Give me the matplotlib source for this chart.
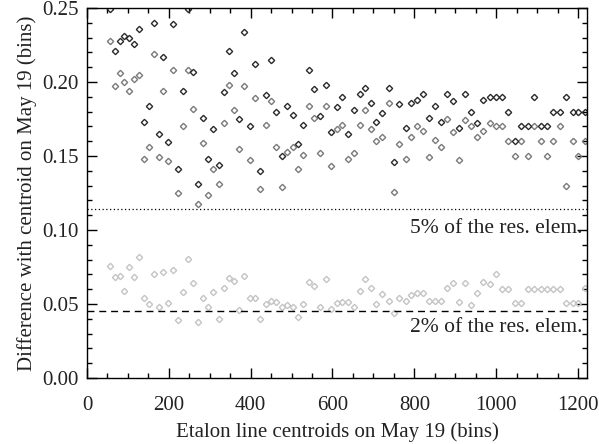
import matplotlib
matplotlib.use("Agg")
import matplotlib.pyplot as plt
from matplotlib.ticker import MultipleLocator, FormatStrFormatter

plt.rcParams['font.family'] = ['Liberation Serif', 'DejaVu Serif']

# etalon line positions (bins)
line_pos = [56, 68, 80, 91, 103, 115, 127, 139, 151, 163, 175, 186, 198, 211, 223,
            235, 247, 260, 272, 284, 296, 308, 322, 335, 348, 360, 372, 384, 398, 410,
            424, 437, 450, 462, 476, 489, 503, 516, 529, 543, 556, 569, 583, 596, 610,
            624, 639, 652, 666, 680, 693, 706, 720, 737, 750, 763, 779, 792, 807, 822,
            836, 851, 865, 880, 894, 910, 924, 939, 954, 969, 984, 1000, 1015, 1030, 1046,
            1061, 1077, 1093, 1109, 1124, 1140, 1157, 1171, 1187, 1201, 1216]

# dark diamonds
diff_dark = [0.249, 0.221, 0.2275, 0.231, 0.230, 0.226, 0.2355, 0.1727, 0.1838, 0.240,
             0.1649, 0.2166, 0.1597, 0.239, 0.141, 0.194, 0.249, 0.207, 0.131, 0.176,
             0.148, 0.168, 0.144, 0.193, 0.221, 0.206, 0.175, 0.234, 0.170, 0.212,
             0.140, 0.191, 0.215, 0.180, 0.150, 0.184, 0.178, 0.158, 0.171, 0.208,
             0.195, 0.177, 0.198, 0.166, 0.183, 0.190, 0.165, 0.181, 0.192, 0.196,
             0.186, 0.173, 0.179, 0.196, 0.146, 0.185, 0.169, 0.186, 0.188, 0.192,
             0.176, 0.184, 0.173, 0.192, 0.187, 0.169, 0.192, 0.180, 0.172, 0.188,
             0.190, 0.190, 0.190, 0.180, 0.160, 0.170, 0.170, 0.190, 0.170, 0.170,
             0.180, 0.180, 0.190, 0.180, 0.180, 0.180]

# medium grey diamonds
diff_mid = [0.228, 0.197, 0.206, 0.200, 0.194, 0.202, 0.2047, 0.148, 0.156, 0.219,
            0.149, 0.194, 0.1468, 0.208, 0.125, 0.170, 0.208, 0.182, 0.1176, 0.159,
            0.1236, 0.141, 0.131, 0.172, 0.198, 0.181, 0.155, 0.197, 0.147, 0.189,
            0.128, 0.171, 0.187, 0.156, 0.129, 0.153, 0.156, 0.141, 0.151, 0.184,
            0.176, 0.152, 0.184, 0.143, 0.168, 0.171, 0.148, 0.152, 0.171, 0.181,
            0.168, 0.160, 0.163, 0.186, 0.126, 0.158, 0.148, 0.163, 0.170, 0.167,
            0.149, 0.161, 0.156, 0.175, 0.166, 0.147, 0.174, 0.170, 0.163, 0.167,
            0.172, 0.170, 0.170, 0.160, 0.150, 0.160, 0.150, 0.170, 0.160, 0.150,
            0.160, 0.170, 0.130, 0.160, 0.150, 0.160]

# light grey diamonds
diff_light = [0.0759, 0.0685, 0.0691, 0.0588, 0.0752, 0.0680, 0.0815, 0.0543, 0.0500, 0.0700,
              0.0477, 0.0718, 0.0509, 0.0730, 0.0392, 0.0579, 0.0802, 0.0640, 0.0380, 0.0538,
              0.0477, 0.0579, 0.0399, 0.0610, 0.0673, 0.0658, 0.0459, 0.0691, 0.0543, 0.0543,
              0.0399, 0.0500, 0.0520, 0.0511, 0.0482, 0.0493, 0.0482, 0.0410, 0.0500, 0.0651,
              0.0622, 0.0477, 0.0669, 0.0466, 0.0504, 0.0511, 0.0511, 0.0482, 0.0590, 0.0669,
              0.0610, 0.0500, 0.0565, 0.0523, 0.0437, 0.0543, 0.0520, 0.0561, 0.0572, 0.0572,
              0.0523, 0.0523, 0.0523, 0.0610, 0.0640, 0.0511, 0.0640, 0.0493, 0.0572, 0.0651,
              0.0633, 0.0700, 0.0601, 0.0601, 0.0504, 0.0504, 0.0601, 0.0601, 0.0601, 0.0601,
              0.0601, 0.0601, 0.0504, 0.0504, 0.0504, 0.0606]

lim_5pct = 0.1142
lim_2pct = 0.0453

fig = plt.figure(figsize=(5.99, 4.44), dpi=100)
ax = fig.add_axes([0.1452, 0.1486, 0.8348, 0.8334])

mk = dict(ls='none', marker='D', ms=3.2, mfc='none', mew=1.0)
ax.plot(line_pos, diff_light, mec='#c4c4c4', **mk)
ax.plot(line_pos, diff_mid, mec='#7a7a7a', **mk)
ax.plot(line_pos, diff_dark, mec='#2a2a2a', **mk)

ax.axhline(lim_5pct, color='black', lw=0.9, ls=(0, (1, 2)))
ax.axhline(lim_2pct, color='black', lw=1.0, ls=(0, (5, 3.5)))
ax.text(1210, 0.1010, '5% of the res. elem.', ha='right', va='center', fontsize=15.5, color='#222222')
ax.text(1210, 0.0340, '2% of the res. elem.', ha='right', va='center', fontsize=15.5, color='#222222')

ax.set_xlim(0, 1222)
ax.set_ylim(0, 0.25)
ax.xaxis.set_major_locator(MultipleLocator(200))
ax.xaxis.set_minor_locator(MultipleLocator(50))
ax.yaxis.set_major_locator(MultipleLocator(0.05))
ax.yaxis.set_minor_locator(MultipleLocator(0.01))
ax.yaxis.set_major_formatter(FormatStrFormatter('%.2f'))
ax.tick_params(which='both', direction='in', top=True, right=True, width=1.0, colors='black',
               labelcolor='#222222', labelsize=15)
ax.tick_params(which='major', length=7)
ax.tick_params(which='minor', length=3.5)
ax.tick_params(axis='x', pad=13)
ax.tick_params(axis='y', pad=6)
for s in ax.spines.values():
    s.set_linewidth(1.0)

ax.set_xlabel('Etalon line centroids on May 19 (bins)', fontsize=15, color='#222222', labelpad=5)
ax.set_ylabel('Difference with centroid on May 19 (bins)', fontsize=15, color='#222222', labelpad=4)

fig.savefig('out.png', dpi=100)
